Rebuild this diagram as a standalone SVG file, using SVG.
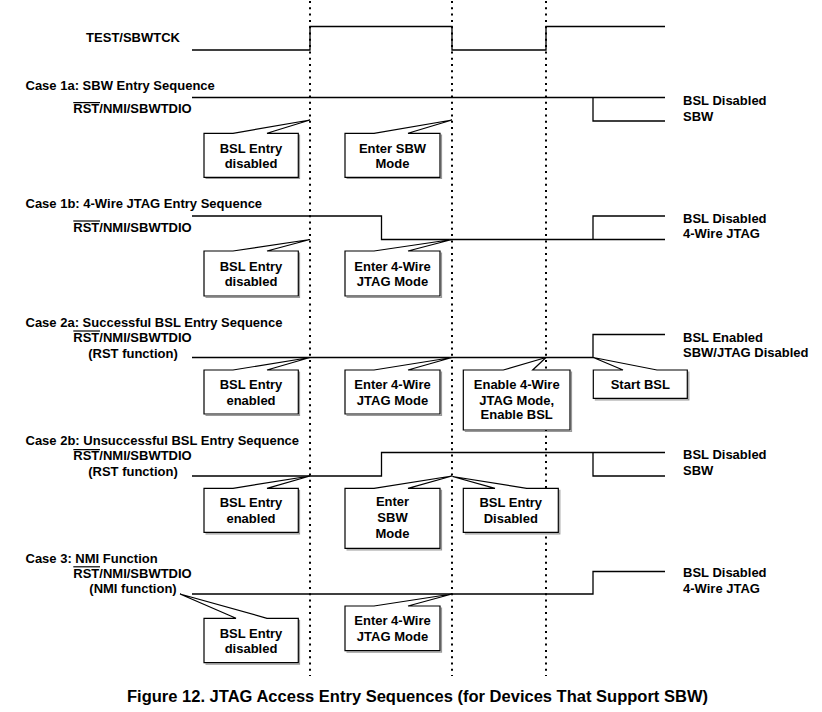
<svg xmlns="http://www.w3.org/2000/svg" width="822" height="712" viewBox="0 0 822 712">
<style>
text{font-family:"Liberation Sans",Arial,Helvetica,sans-serif;font-weight:bold;font-size:13px;fill:#000}
.c{text-anchor:middle}
.e{text-anchor:end}
.cap{font-size:16px}
.sig{fill:none;stroke:#000;stroke-width:1.3}
.ovl{stroke:#000;stroke-width:1.2}
.dot{fill:none;stroke:#000;stroke-width:2;stroke-dasharray:2 4.3}
.box{fill:#fff;stroke:#000;stroke-width:1.2;stroke-linejoin:miter}
.sh{fill:none;stroke:#999;stroke-width:1.2}
</style>
<rect width="822" height="712" fill="#fff"/>
<g id="guides">
<line class="dot" x1="310" y1="1" x2="310" y2="676"/>
<line class="dot" x1="452" y1="1" x2="452" y2="676"/>
<line class="dot" x1="546" y1="1" x2="546" y2="676"/>
</g>
<g id="connectors">
<path class="sig" d="M192,50 H310 V26.5 H452 V50 H546 V26.5 H665"/>
<path class="sig" d="M192,97.5 H665 M593,97.5 V121 H665"/>
<path class="sig" d="M192,216 H381.5 V239.5 H665 M593,239.5 V216 H665"/>
<path class="sig" d="M192,357.5 H593 V334.5 H665"/>
<path class="sig" d="M192,476 H381.5 V452.5 H665 M593,452.5 V476 H665"/>
<path class="sig" d="M192,594 H593 V571.5 H665"/>
</g>
<g id="labels">
<text class="e" x="180" y="42">TEST/SBWTCK</text>
<text x="25.5" y="90">Case 1a: SBW Entry Sequence</text>
<text x="73.3" y="113.3">RST/NMI/SBWTDIO</text>
<line class="ovl" x1="73.3" y1="102.6" x2="100" y2="102.6"/>
<text x="683" y="105">BSL Disabled</text>
<text x="683" y="120.7">SBW</text>
<text x="25.5" y="207.5">Case 1b: 4-Wire JTAG Entry Sequence</text>
<text x="73.3" y="231.7">RST/NMI/SBWTDIO</text>
<line class="ovl" x1="73.3" y1="221" x2="100" y2="221"/>
<text x="683" y="222.7">BSL Disabled</text>
<text x="683" y="238.3">4-Wire JTAG</text>
<text x="25.5" y="326.7">Case 2a: Successful BSL Entry Sequence</text>
<text x="73.3" y="341.7">RST/NMI/SBWTDIO</text>
<line class="ovl" x1="73.3" y1="331" x2="100" y2="331"/>
<text class="c" x="133" y="357.7">(RST function)</text>
<text x="683" y="341.7">BSL Enabled</text>
<text x="683" y="357.3">SBW/JTAG Disabled</text>
<text x="25.5" y="445.2">Case 2b: Unsuccessful BSL Entry Sequence</text>
<text x="73.3" y="460.3">RST/NMI/SBWTDIO</text>
<line class="ovl" x1="73.3" y1="449.6" x2="100" y2="449.6"/>
<text class="c" x="133" y="476">(RST function)</text>
<text x="683" y="459.3">BSL Disabled</text>
<text x="683" y="475">SBW</text>
<text x="25.5" y="563.3">Case 3: NMI Function</text>
<text x="73.3" y="577.5">RST/NMI/SBWTDIO</text>
<line class="ovl" x1="73.3" y1="566.8" x2="100" y2="566.8"/>
<text class="c" x="133" y="593.3">(NMI function)</text>
<text x="683" y="577.3">BSL Disabled</text>
<text x="683" y="593.3">4-Wire JTAG</text>
<text class="c cap" x="417.5" y="701.5" textLength="581" lengthAdjust="spacingAndGlyphs">Figure 12. JTAG Access Entry Sequences (for Devices That Support SBW)</text>
</g>
<g id="c1a-bsl">
<path class="sh" d="M299.5,134.5 V178.5 H205.5"/>
<path class="box" d="M204,133.3 H233 L310,120 L267,133.3 H298.3 V177.3 H204 Z"/>
<text class="c" x="251" y="152.6">BSL Entry</text>
<text class="c" x="251" y="167.6">disabled</text>
</g>
<g id="c1a-sbw">
<path class="sh" d="M441.5,134.5 V178.5 H346.5"/>
<path class="box" d="M345,133.3 H374 L452,120 L408,133.3 H440 V177.3 H345 Z"/>
<text class="c" x="392.5" y="152.6">Enter SBW</text>
<text class="c" x="392.5" y="167.6">Mode</text>
</g>
<g id="c1b-bsl">
<path class="sh" d="M299.5,252.5 V297.5 H205.5"/>
<path class="box" d="M204,251 H233 L310,239.5 L267,251 H298.3 V296 H204 Z"/>
<text class="c" x="251" y="270.5">BSL Entry</text>
<text class="c" x="251" y="286">disabled</text>
</g>
<g id="c1b-jtag">
<path class="sh" d="M441.5,252.5 V297.5 H346.5"/>
<path class="box" d="M345,251 H374 L452,239.5 L408,251 H440 V296 H345 Z"/>
<text class="c" x="392.5" y="270.5">Enter 4-Wire</text>
<text class="c" x="392.5" y="286">JTAG Mode</text>
</g>
<g id="c2a-bsl">
<path class="sh" d="M299.5,371.5 V415.5 H205.5"/>
<path class="box" d="M204,370 H233 L310,357.5 L267,370 H298.3 V414 H204 Z"/>
<text class="c" x="251" y="389">BSL Entry</text>
<text class="c" x="251" y="404.5">enabled</text>
</g>
<g id="c2a-jtag">
<path class="sh" d="M441.5,371.5 V415.5 H346.5"/>
<path class="box" d="M345,370 H374 L452,357.5 L408,370 H440 V414 H345 Z"/>
<text class="c" x="392.5" y="389">Enter 4-Wire</text>
<text class="c" x="392.5" y="404.5">JTAG Mode</text>
</g>
<g id="c2a-enable">
<path class="sh" d="M571.5,371.5 V431.5 H464.8"/>
<path class="box" d="M463.3,370 H503.3 L546,357.5 L532.7,370 H570 V430 H463.3 Z"/>
<text class="c" x="516.7" y="389">Enable 4-Wire</text>
<text class="c" x="516.7" y="404.5">JTAG Mode,</text>
<text class="c" x="516.7" y="419.3">Enable BSL</text>
</g>
<g id="c2a-start">
<path class="sh" d="M688.8,371.5 V399.8 H594.8"/>
<path class="box" d="M593.3,370 H623 L593.3,357.5 L657,370 H687.3 V398.3 H593.3 Z"/>
<text class="c" x="640.3" y="389">Start BSL</text>
</g>
<g id="c2b-bsl">
<path class="sh" d="M299.5,489.8 V533.8 H205.5"/>
<path class="box" d="M204,488.3 H233 L310,476 L267,488.3 H298.3 V532.3 H204 Z"/>
<text class="c" x="251" y="506.5">BSL Entry</text>
<text class="c" x="251" y="523">enabled</text>
</g>
<g id="c2b-sbw">
<path class="sh" d="M441.5,489.8 V549.8 H346.5"/>
<path class="box" d="M345,488.3 H374 L452,476 L408,488.3 H440 V548.3 H345 Z"/>
<text class="c" x="392.5" y="506.3">Enter</text>
<text class="c" x="392.5" y="522">SBW</text>
<text class="c" x="392.5" y="537.5">Mode</text>
</g>
<g id="c2b-disabled">
<path class="sh" d="M559.8,489.8 V533.8 H464.8"/>
<path class="box" d="M463.3,488.3 H495 L452.5,476.5 L526.7,488.3 H558.3 V532.3 H463.3 Z"/>
<text class="c" x="510.8" y="506.6">BSL Entry</text>
<text class="c" x="510.8" y="523">Disabled</text>
</g>
<g id="c3-bsl">
<path class="sh" d="M299.5,619.8 V664.2 H205.5"/>
<path class="box" d="M204,618.3 H236 L180,594 L267,618.3 H298.3 V662.7 H204 Z"/>
<text class="c" x="251" y="637.5">BSL Entry</text>
<text class="c" x="251" y="653">disabled</text>
</g>
<g id="c3-jtag">
<path class="sh" d="M441.5,607.5 V652.2 H346.5"/>
<path class="box" d="M345,606 H374 L452,594 L408,606 H440 V650.7 H345 Z"/>
<text class="c" x="392.5" y="625">Enter 4-Wire</text>
<text class="c" x="392.5" y="641">JTAG Mode</text>
</g>
</svg>
